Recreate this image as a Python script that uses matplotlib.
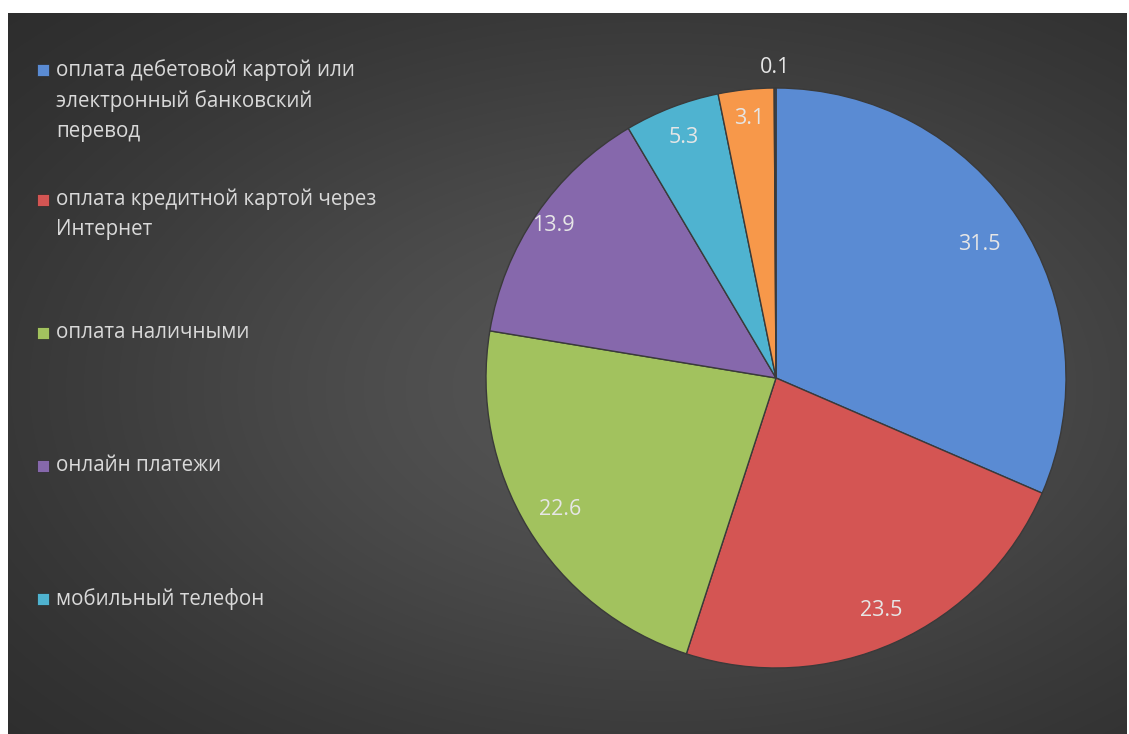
import numpy as np
import matplotlib

matplotlib.use("Agg")
import matplotlib.pyplot as plt
from matplotlib.patches import Rectangle

plt.rcParams["font.family"] = ["Open Sans", "DejaVu Sans"]

# data
legend_labels = [
    "оплата дебетовой картой или\nэлектронный банковский\nперевод",
    "оплата кредитной картой через\nИнтернет",
    "оплата наличными",
    "онлайн платежи",
    "мобильный телефон",
]
values = [31.5, 23.5, 22.6, 13.9, 5.3, 3.1, 0.1]
value_labels = ["31.5", "23.5", "22.6", "13.9", "5.3", "3.1", "0.1"]
colors = ["#5a8bd3", "#d45553", "#a2c25e", "#8668ac", "#4fb3d0", "#f7984a", "#2c4d75"]

W, H = 1129, 734
fig = plt.figure(figsize=(W / 100, H / 100), dpi=100)
fig.patch.set_facecolor("white")

# dark radial-gradient panel
bg = fig.add_axes([8 / W, 0, (W - 10) / W, (H - 13) / H])
bg.set_axis_off()
yy, xx = np.mgrid[0:1:720j, 0:1:1120j]
d = np.sqrt(((xx - 0.58) / 0.75) ** 2 + ((yy - 0.48) / 0.7) ** 2)
shade = 0.15 + 0.18 * np.exp(-1.6 * d ** 2)
bg.imshow(np.dstack([shade] * 3), extent=[0, 1, 0, 1], aspect="auto",
          origin="lower", interpolation="bilinear")
bg.set_xlim(0, 1)
bg.set_ylim(0, 1)

# pie
cx, cy, r = 776, 378, 290
ax = fig.add_axes([(cx - r) / W, (H - cy - r) / H, 2 * r / W, 2 * r / H])
wedges, texts = ax.pie(
    values,
    colors=colors,
    startangle=90,
    counterclock=False,
    radius=1.0,
    wedgeprops=dict(edgecolor="#3a3a3a", linewidth=1.0),
)
ax.set_xlim(-1, 1)
ax.set_ylim(-1, 1)
ax.set_aspect("equal")

dist = [0.84, 0.88, 0.87, 0.93, 0.89, 0.9, 1.07]
for w, lab, dd in zip(wedges, value_labels, dist):
    ang = np.deg2rad((w.theta1 + w.theta2) / 2)
    ax.text(dd * np.cos(ang), dd * np.sin(ang), lab, ha="center", va="center",
            fontsize=15.5, color="#e6e6e6", clip_on=False)

# legend drawn by hand (wrapped entries, as in the reference)
leg_y = [70, 200, 333, 466, 599]
for lab, col, y in zip(legend_labels, colors, leg_y):
    fig.patches.append(Rectangle((37 / W, (H - y - 6) / H), 12 / W, 12 / H,
                                 transform=fig.transFigure, facecolor=col,
                                 edgecolor="#2a2a2a", linewidth=0.5))
    fig.text(56 / W, (H - y + 11) / H, lab, ha="left", va="top", fontsize=14.8,
             color="#d9d9d9", linespacing=1.55)

fig.savefig("out.png", dpi=100, facecolor=fig.get_facecolor())
